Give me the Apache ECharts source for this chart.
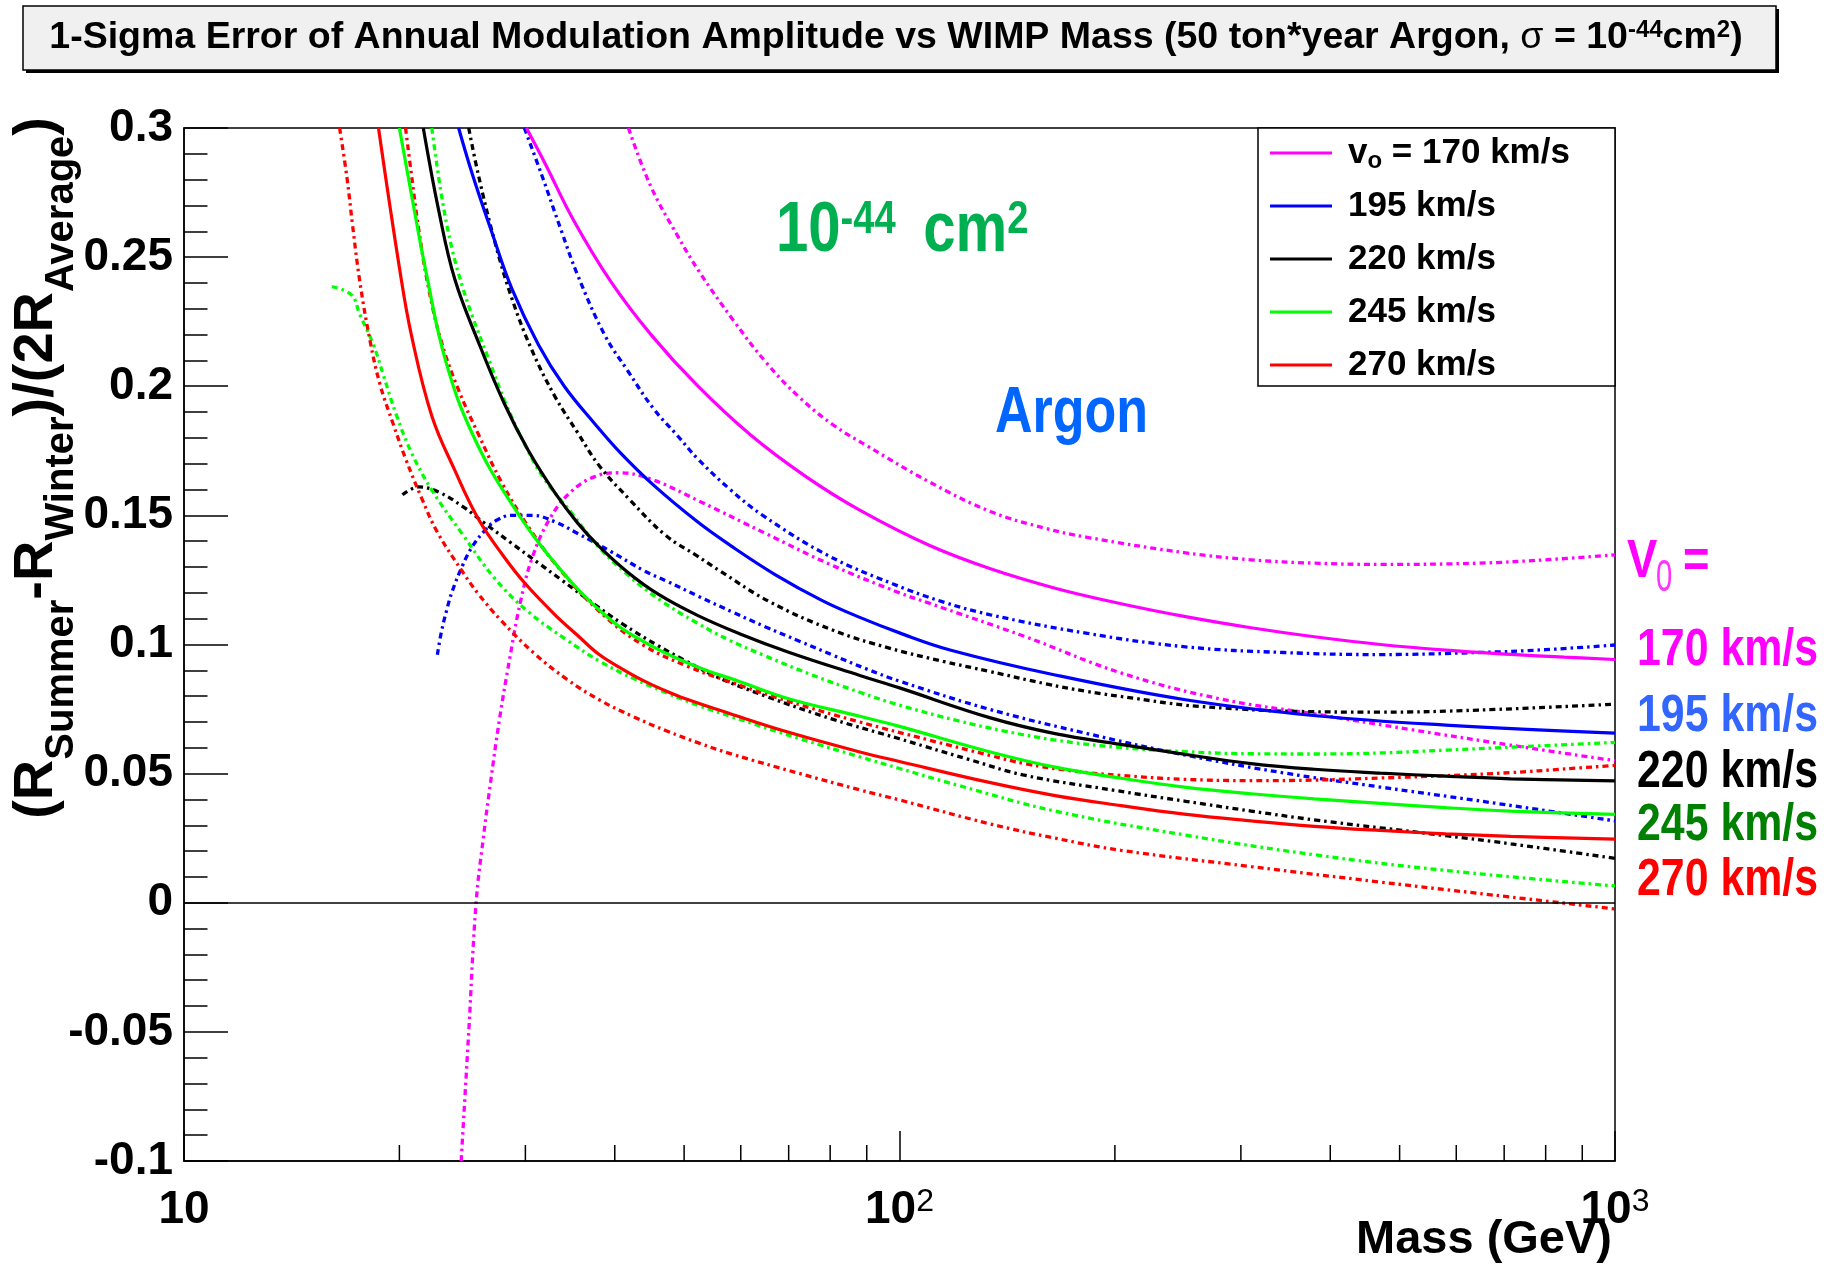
<!DOCTYPE html>
<html><head><meta charset="utf-8">
<script src="https://cdn.jsdelivr.net/npm/echarts@6/dist/echarts.min.js"></script>
<style>html,body{margin:0;padding:0;background:#fff}#c{width:1831px;height:1268px}</style>
</head><body><div id="c"></div>
<script>
const FONT = '"Liberation Sans", Arial, Helvetica, sans-serif';

// ---- axis settings ----
const xMin = 10, xMax = 1000;
const yMin = -0.1, yMax = 0.3, yStep = 0.05;
const xMinorTicks = [20,30,40,50,60,70,80,90,200,300,400,500,600,700,800,900];

// ---- solid curves [mass GeV, value] ----
const solid170 = [[30.1,0.300],[32,0.286],[35,0.2645],[39.5,0.2405],[45,0.2198],[52.2,0.2002],[62,0.181],[74,0.165],[88,0.152],[110,0.1384],[134,0.1293],[165,0.1218],[204,0.1158],[250,0.1109],[310,0.1065],[380,0.103],[470,0.100],[580,0.0978],[715,0.0962],[850,0.0951],[1000,0.0942]];
const solid195 = [[24.2,0.300],[25.3,0.282],[26.9,0.260],[28.7,0.238],[31.3,0.216],[34,0.200],[37.5,0.1855],[40.8,0.174],[45.4,0.1615],[52.2,0.1475],[58,0.1384],[67,0.1271],[78,0.117],[88,0.1105],[100,0.1045],[118,0.0978],[165,0.0882],[251,0.0786],[382,0.0724],[580,0.0688],[1000,0.0657]];
const solid220 = [[21.6,0.300],[22.7,0.268],[23.9,0.2415],[25.8,0.217],[28,0.1936],[30.3,0.175],[33,0.1587],[35.5,0.147],[38,0.1381],[41.7,0.128],[46,0.1195],[52.2,0.1113],[60,0.104],[70,0.097],[88,0.088],[100,0.0832],[134,0.0716],[165,0.0655],[204,0.0613],[250,0.0575],[310,0.0539],[380,0.0517],[470,0.0502],[580,0.049],[715,0.048],[1000,0.0472]];
const solid245 = [[20,0.300],[20.8,0.274],[21.8,0.244],[23.2,0.210],[25.3,0.1815],[28.7,0.1545],[33.7,0.1285],[39.5,0.1095],[45,0.0995],[52,0.0915],[60,0.0855],[70,0.0790],[88,0.0722],[100,0.0683],[134,0.0584],[165,0.0525],[204,0.0482],[250,0.0448],[310,0.0422],[380,0.0402],[470,0.0385],[580,0.0368],[715,0.0355],[1000,0.0342]];
const solid270 = [[18.7,0.300],[20,0.246],[20.8,0.2195],[22.2,0.1885],[23.9,0.1675],[25.8,0.1485],[28,0.134],[30,0.1235],[33,0.1115],[35.5,0.1035],[38,0.0962],[41,0.0905],[44,0.0858],[47,0.0822],[50,0.0792],[58,0.0732],[70,0.066],[88,0.0584],[100,0.0547],[134,0.0465],[165,0.0415],[204,0.0376],[250,0.0343],[310,0.0317],[380,0.0296],[470,0.028],[580,0.0267],[715,0.0257],[1000,0.0246]];

// ---- dash-dot curves (upper / lower) ----
const dd170u = [[41.8,0.300],[44.9,0.2775],[48.9,0.2585],[52.6,0.244],[58.6,0.2255],[65.2,0.209],[72.6,0.1955],[80.8,0.185],[90,0.177],[110,0.163],[134,0.1515],[160,0.145],[183,0.1415],[251,0.1355],[310,0.1328],[380,0.1315],[470,0.131],[644,0.1315],[800,0.1328],[1000,0.1347]];
const dd170l = [[24.4,-0.100],[25.0,-0.050],[25.6,0.000],[26.2,0.025],[26.8,0.046],[27.6,0.071],[28.5,0.094],[29.5,0.116],[30.7,0.134],[32.5,0.149],[34.7,0.159],[37.5,0.165],[40.5,0.1665],[45,0.164],[52.5,0.1555],[65,0.143],[80,0.131],[100,0.120],[110,0.116],[150,0.103],[204,0.089],[280,0.079],[382,0.073],[520,0.067],[715,0.061],[1000,0.055]];
const dd195u = [[29.9,0.300],[31.6,0.282],[33.7,0.260],[35.5,0.243],[38.7,0.220],[41.7,0.206],[45.4,0.191],[48.9,0.181],[52.2,0.172],[58,0.160],[64.4,0.150],[79.4,0.1345],[97.8,0.1235],[115,0.1165],[134,0.1115],[183,0.1043],[251,0.0991],[344,0.0969],[470,0.0961],[644,0.0969],[800,0.098],[1000,0.0998]];
const dd195l = [[22.6,0.096],[22.9,0.105],[23.3,0.1135],[23.7,0.1205],[24.5,0.1305],[25.3,0.138],[26.3,0.144],[27.3,0.148],[28.7,0.150],[30.7,0.150],[33,0.1475],[35.5,0.143],[39.5,0.136],[44,0.1285],[47.3,0.1245],[52.5,0.1185],[58.5,0.1125],[65,0.1068],[72.6,0.1012],[80.8,0.0958],[90,0.0905],[100,0.0858],[134,0.0748],[183,0.0655],[251,0.0572],[344,0.0503],[470,0.0448],[644,0.0395],[1000,0.0317]];
const dd220u = [[25,0.300],[25.8,0.2816],[27.2,0.2558],[28.7,0.2343],[30.6,0.2143],[33,0.196],[35.5,0.182],[38.1,0.169],[42,0.156],[47,0.1425],[52,0.1345],[56.1,0.1285],[65.9,0.1165],[80.8,0.1055],[97,0.0985],[115,0.0935],[134,0.0895],[160,0.0848],[183,0.0818],[215,0.079],[251,0.0765],[300,0.075],[344,0.0742],[470,0.0738],[644,0.0746],[1000,0.0769]];
const dd220l = [[20.2,0.158],[21.3,0.161],[22.7,0.159],[24.5,0.1535],[26.3,0.147],[28.6,0.1395],[31.3,0.1315],[33.7,0.125],[37.5,0.1155],[41,0.108],[46,0.0995],[50,0.094],[55.5,0.0875],[65,0.080],[80.8,0.071],[100,0.0635],[108.6,0.0605],[125,0.0555],[148.8,0.0495],[200,0.0435],[251,0.0393],[310,0.0355],[382,0.032],[470,0.029],[580,0.026],[715,0.0228],[1000,0.0172]];
const dd245u = [[22.2,0.300],[22.9,0.274],[23.7,0.253],[24.5,0.2386],[25.3,0.227],[26.7,0.210],[28.1,0.194],[30,0.177],[31.9,0.164],[34.8,0.151],[37.9,0.138],[41.7,0.127],[46.4,0.117],[52,0.1085],[58,0.1015],[64.4,0.096],[75,0.0885],[88,0.0815],[100,0.0765],[120.6,0.0705],[140,0.0665],[165,0.063],[200,0.0603],[251,0.0585],[310,0.0577],[382,0.0576],[470,0.058],[580,0.0591],[750,0.0605],[1000,0.0621]];
const dd245l = [[16.1,0.2386],[17.15,0.2353],[17.6,0.2279],[18.4,0.216],[19.0,0.2042],[19.8,0.189],[20.8,0.1742],[22.2,0.1598],[24.5,0.1427],[27.2,0.1255],[30.3,0.1126],[34.3,0.1017],[38.1,0.0935],[42.5,0.0868],[47.3,0.0812],[52.6,0.0762],[58.6,0.0718],[72.6,0.0635],[88,0.0565],[100,0.052],[120.6,0.0455],[165,0.0355],[251,0.0262],[382,0.0185],[580,0.0125],[1000,0.0065]];
const dd270u = [[20.4,0.300],[20.8,0.2816],[21.3,0.2601],[22,0.2372],[22.9,0.2171],[24.2,0.1985],[25.8,0.1813],[27.8,0.1627],[30.3,0.1455],[33.7,0.1283],[38.7,0.111],[44,0.0995],[50.6,0.0915],[58,0.0855],[70,0.078],[88,0.070],[110,0.063],[134,0.057],[150,0.0538],[175,0.051],[204,0.0493],[250,0.0478],[310,0.0473],[380,0.0475],[470,0.0483],[580,0.0492],[715,0.0504],[850,0.0518],[1000,0.0532]];
const dd270l = [[16.5,0.300],[16.9,0.2805],[17.2,0.2625],[17.6,0.241],[18.2,0.2175],[18.8,0.2005],[19.6,0.1855],[20.4,0.172],[21.5,0.1565],[22.6,0.1435],[24.6,0.1275],[25.8,0.1195],[27.7,0.1095],[30.8,0.0968],[34.3,0.0865],[38.1,0.0785],[42.5,0.072],[47.3,0.0665],[52.6,0.0617],[58.4,0.0575],[72.6,0.050],[88,0.0437],[100,0.0398],[134,0.0305],[165,0.025],[204,0.0203],[310,0.014],[470,0.008],[715,0.0022],[1000,-0.0024]];

// ---- labels ----
const speedNames = ['170 km/s','195 km/s','220 km/s','245 km/s','270 km/s'];
const speedColors = ['#ff00ff','#0000ff','#000000','#00ff00','#ff0000'];
const sideLabelColors = ['#ff00ff','#3366ff','#000000','#008000','#ff0000'];
const sideLabelY = [651, 717, 773, 826, 881];

const solids = [solid170, solid195, solid220, solid245, solid270];
const dashUp = [dd170u, dd195u, dd220u, dd245u, dd270u];
const dashLo = [dd170l, dd195l, dd220l, dd245l, dd270l];

const chart = echarts.init(document.getElementById('c'), null, {renderer: 'canvas'});

const series = [];
speedNames.forEach((nm, i) => {
  const c = speedColors[i];
  [[dashUp[i], 'up'], [dashLo[i], 'lo']].forEach(([d, tag]) => {
    series.push({
      type: 'line', name: nm + ' ' + tag, data: d, showSymbol: false, symbol: 'none',
      smooth: 0.4, clip: true, z: 2,
      lineStyle: {color: c, width: 3.3, type: [6, 4, 2.5, 4]}, itemStyle: {color: c},
      emphasis: {disabled: true}
    });
  });
});
speedNames.forEach((nm, i) => {
  const c = speedColors[i];
  series.push({
    type: 'line', name: nm, data: solids[i], showSymbol: false, symbol: 'none',
    smooth: 0.4, clip: true, z: 3,
    lineStyle: {color: c, width: 3.2, type: 'solid'}, itemStyle: {color: c},
    emphasis: {disabled: true}
  });
});
// zero line
series[series.length - 1].markLine = {
  silent: true, symbol: 'none', label: {show: false}, animation: false,
  lineStyle: {color: '#000', width: 1.5, type: 'solid'},
  data: [{yAxis: 0}]
};
// x minor ticks
series.push({
  type: 'custom', name: 'xminor', silent: true, z: 4,
  data: xMinorTicks.map(v => [v, yMin]),
  renderItem: (params, api) => {
    const p = api.coord([api.value(0), api.value(1)]);
    return {type: 'line', shape: {x1: p[0], y1: p[1], x2: p[0], y2: p[1] - 16},
            style: {stroke: '#000', lineWidth: 1.5}};
  }
});

const side = speedNames.map((t, i) => ({
  type: 'text', x: 1637, y: sideLabelY[i], scaleX: 0.84, z: 10,
  style: {text: t, fill: sideLabelColors[i], fontFamily: FONT, fontSize: 51, fontWeight: 'bold',
          align: 'left', verticalAlign: 'middle'}
}));

const option = {
  backgroundColor: '#ffffff',
  animation: false,
  grid: {left: 184, top: 128, width: 1431, height: 1033, show: true, containLabel: false,
         outerBoundsMode: 'none',
         borderColor: '#000', borderWidth: 1.5, backgroundColor: 'rgba(0,0,0,0)'},
  xAxis: {
    type: 'log', logBase: 10, min: xMin, max: xMax,
    axisLine: {show: true, onZero: false, lineStyle: {color: '#000', width: 1.5}},
    axisTick: {show: true, inside: true, length: 30, lineStyle: {color: '#000', width: 1.5}},
    minorTick: {show: false}, splitLine: {show: false},
    axisLabel: {
      margin: 25, showMinLabel: true, showMaxLabel: true,
      formatter: v => { const e = Math.round(Math.log10(v)); return e === 1 ? '{n|10}' : '{n|10}{s|' + e + '}'; },
      rich: {
        n: {fontFamily: FONT, fontSize: 46, fontWeight: 'bold', color: '#000', lineHeight: 48, verticalAlign: 'middle'},
        s: {fontFamily: FONT, fontSize: 32, fontWeight: 'normal', color: '#000', lineHeight: 12, verticalAlign: 'top'}
      }
    }
  },
  yAxis: {
    type: 'value', min: yMin, max: yMax, interval: yStep,
    axisLine: {show: true, onZero: false, lineStyle: {color: '#000', width: 1.5}},
    axisTick: {show: true, inside: true, length: 44, lineStyle: {color: '#000', width: 1.5}},
    minorTick: {show: true, splitNumber: 5, length: 23.5, lineStyle: {color: '#000', width: 1.5}},
    splitLine: {show: false}, minorSplitLine: {show: false},
    axisLabel: {margin: 11, fontFamily: FONT, fontSize: 46, fontWeight: 'bold', color: '#000',
                formatter: v => String(Math.round(v * 1000) / 1000)}
  },
  legend: {
    data: speedNames, orient: 'vertical', left: 1270, top: 133, padding: 0, itemGap: 13,
    itemWidth: 62, itemHeight: 3, icon: 'rect', selectedMode: false, z: 12,
    formatter: n => n === '170 km/s' ? '{t|v}{s|o}{t| = 170 km/s}' : '{t|' + n + '}',
    textStyle: {
      fontFamily: FONT, fontSize: 35, fontWeight: 'bold', color: '#000', lineHeight: 40, padding: [0, 0, 0, 11],
      rich: {
        t: {fontFamily: FONT, fontSize: 35, fontWeight: 'bold', color: '#000', lineHeight: 40, verticalAlign: 'middle'},
        s: {fontFamily: FONT, fontSize: 24, fontWeight: 'bold', color: '#000', lineHeight: 20, verticalAlign: 'bottom'}
      }
    }
  },
  graphic: [
    {type: 'rect', z: 1, shape: {x: 26, y: 9, width: 1753, height: 64}, style: {fill: '#000'}},
    {type: 'rect', z: 2, shape: {x: 23, y: 6, width: 1753, height: 64}, style: {fill: '#f0f0f0', stroke: '#000', lineWidth: 1.5}},
    {type: 'text', z: 3, x: 896, y: 38, style: {
      text: '{b|1-Sigma Error of Annual Modulation Amplitude vs WIMP Mass (50 ton*year Argon, }{g|σ}{b| = 10}{p|-44}{b|cm}{p|2}{b|)}',
      align: 'center', verticalAlign: 'middle',
      rich: {
        b: {fontFamily: FONT, fontSize: 37.5, fontWeight: 'bold', fill: '#000', lineHeight: 40, verticalAlign: 'middle'},
        g: {fontFamily: FONT, fontSize: 37.5, fontWeight: 'normal', fill: '#000', lineHeight: 40, verticalAlign: 'middle'},
        p: {fontFamily: FONT, fontSize: 24, fontWeight: 'bold', fill: '#000', lineHeight: 20, verticalAlign: 'top'}
      }}},
    {type: 'rect', z: 11, shape: {x: 1258, y: 128, width: 357, height: 258}, style: {fill: '#fff', stroke: '#000', lineWidth: 1.5}},
    {type: 'text', z: 10, x: 37, y: 117, rotation: Math.PI / 2, style: {
      text: '{m|(R}{s|Summer}{m|-R}{s|Winter}{m|)/(2R}{s|Average}{m|)}',
      align: 'right', verticalAlign: 'middle',
      rich: {
        m: {fontFamily: FONT, fontSize: 56, fontWeight: 'bold', fill: '#000', lineHeight: 90, verticalAlign: 'middle'},
        s: {fontFamily: FONT, fontSize: 40, fontWeight: 'bold', fill: '#000', lineHeight: 36, verticalAlign: 'bottom'}
      }}},
    {type: 'text', z: 10, x: 1612, y: 1240, style: {
      text: 'Mass (GeV)', fill: '#000', fontFamily: FONT, fontSize: 47, fontWeight: 'bold', align: 'right', verticalAlign: 'middle'}},
    {type: 'text', z: 10, x: 776, y: 232, scaleX: 0.83, style: {
      text: '{m|10}{s|-44}{c|cm}{s|2}', align: 'left', verticalAlign: 'middle',
      rich: {
        m: {fontFamily: FONT, fontSize: 70, fontWeight: 'bold', fill: '#00b050', lineHeight: 70, verticalAlign: 'middle'},
        c: {fontFamily: FONT, fontSize: 70, fontWeight: 'bold', fill: '#00b050', lineHeight: 70, verticalAlign: 'middle', padding: [0, 0, 0, 33]},
        s: {fontFamily: FONT, fontSize: 46, fontWeight: 'bold', fill: '#00b050', lineHeight: 42, verticalAlign: 'top'}
      }}},
    {type: 'text', z: 10, x: 995, y: 414, scaleX: 0.8, style: {
      text: 'Argon', fill: '#0066ff', fontFamily: FONT, fontSize: 65, fontWeight: 'bold', align: 'left', verticalAlign: 'middle'}},
    {type: 'text', z: 10, x: 1627, y: 562, scaleX: 0.84, style: {
      text: 'V', fill: '#ff00ff', fontFamily: FONT, fontSize: 54, fontWeight: 'bold', align: 'left', verticalAlign: 'middle'}},
    {type: 'text', z: 10, x: 1656, y: 579, scaleX: 0.65, style: {
      text: '0', fill: '#ff33ff', fontFamily: FONT, fontSize: 45, fontWeight: 'normal', align: 'left', verticalAlign: 'middle'}},
    {type: 'text', z: 10, x: 1683, y: 562, scaleX: 0.84, style: {
      text: '=', fill: '#ff00ff', fontFamily: FONT, fontSize: 54, fontWeight: 'bold', align: 'left', verticalAlign: 'middle'}}
  ].concat(side),
  series: series
};
chart.setOption(option);
</script>
</body></html>
